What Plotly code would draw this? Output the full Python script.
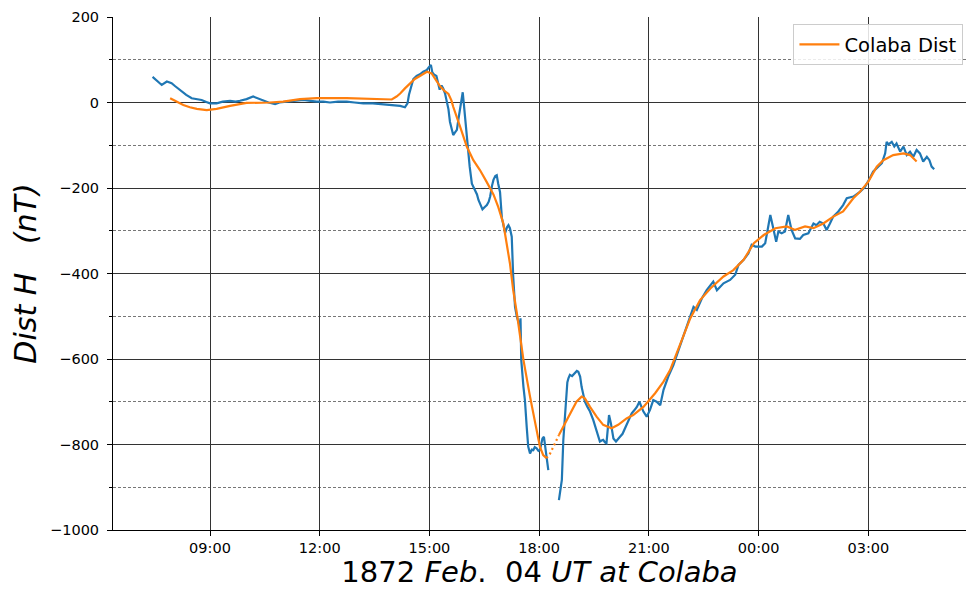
import pandas as pd
import plotly.graph_objects as go

# ------------------------------
# data (hours after 1872-02-04 00:00 UT, nT)
# ------------------------------
blue_h = [7.43, 7.55, 7.68, 7.82, 7.95, 8.05, 8.18, 8.35, 8.5, 8.65, 8.77, 8.9, 9.0, 9.18, 9.35, 9.55, 9.7, 9.82,
          10.0, 10.18, 10.3, 10.46, 10.6, 10.78, 10.9, 11.1, 11.3, 11.55, 11.75, 11.92, 12.1, 12.28, 12.5, 12.74,
          12.95, 13.19, 13.45, 13.74, 14.0, 14.2, 14.33, 14.4, 14.44, 14.5, 14.56, 14.65, 14.74, 14.83, 14.93,
          14.98, 15.04, 15.08, 15.12, 15.19, 15.24, 15.28, 15.33, 15.38, 15.43, 15.48, 15.52, 15.56, 15.61, 15.65,
          15.7, 15.75, 15.8, 15.84, 15.88, 15.91, 15.93, 15.97, 16.02, 16.06, 16.1, 16.16, 16.21, 16.25, 16.3,
          16.34, 16.4, 16.45, 16.52, 16.57, 16.62, 16.66, 16.71, 16.75, 16.8, 16.84, 16.88, 16.93, 16.98, 17.02,
          17.07, 17.12, 17.16, 17.2, 17.25, 17.29, 17.34, 17.39, 17.44, 17.47, 17.49, 17.51, 17.57, 17.61, 17.66,
          17.7, 17.75, 17.8, 17.84, 17.88, 17.93, 17.98, 18.02, 18.06, 18.09, 18.13, 18.16, 18.2, 18.25,
          18.4,
          18.54, 18.58, 18.62, 18.66, 18.7, 18.73, 18.77, 18.8, 18.84, 18.9, 18.98, 19.03, 19.07, 19.12, 19.16,
          19.2, 19.25, 19.32, 19.39, 19.48, 19.57, 19.62, 19.66, 19.72, 19.75, 19.8, 19.84, 19.88, 19.91, 19.96,
          20.03, 20.1, 20.16, 20.21, 20.28, 20.35, 20.44, 20.53, 20.6, 20.67, 20.74, 20.8, 20.85, 20.94, 21.03,
          21.12, 21.21, 21.31, 21.4, 21.53, 21.67, 21.81, 21.9, 22.0, 22.13, 22.22, 22.31, 22.45, 22.58, 22.68,
          22.76, 22.86, 22.95, 23.04, 23.22, 23.36, 23.45, 23.59, 23.72, 23.81, 23.91, 24.0, 24.09, 24.18, 24.24,
          24.32, 24.39, 24.48, 24.54, 24.63, 24.72, 24.81, 24.9, 25.0, 25.13, 25.22, 25.36, 25.5, 25.58, 25.67,
          25.77, 25.86, 25.95, 26.04, 26.18, 26.31, 26.41, 26.5, 26.59, 26.77, 26.91, 27.04, 27.13, 27.27, 27.37,
          27.46, 27.5, 27.55, 27.59, 27.64, 27.71, 27.77, 27.87, 27.96, 28.05, 28.14, 28.23, 28.32, 28.41, 28.5,
          28.6, 28.67, 28.73, 28.8]
blue_v = [60, 50, 41, 49, 45, 38, 29, 18, 10, 8, 6, 1, -2, -2, 2, 4, 2, 4,
          8, 14, 10, 6, 0, -4, 0, 2, 4, 6, 4, 2, 2, 0, 2, 2,
          0, -2, -2, -4, -6, -8, -11, -2, 18, 40, 55, 62, 66, 72, 76,
          82, 88, 70, 66, 62, 45, 30, 40, 32, 20, 0, -16, -45, -62, -76,
          -70, -64, -35, -10, 18, 24, 6, -33, -70, -115, -150, -190, -200, -205, -215,
          -228, -242, -250, -244, -240, -232, -220, -195, -181, -172, -170, -190, -210, -270, -290,
          -305, -292, -287, -294, -314, -407, -478, -501, -520, -524, -505, -602, -665, -696, -760,
          -805, -821, -812, -813, -806, -809, -815, -813, -800, -786, -782, -800, -830, -860,
          None,
          -930, -910, -883, -790, -730, -696, -655, -645, -637, -640, -634, -628, -630, -641, -665,
          -685, -700, -712, -723, -743, -770, -785, -793, -790, -789, -795, -797, -760, -731, -750,
          -786, -793, -788, -782, -775, -762, -743, -727, -720, -712, -700, -712, -723, -735, -719,
          -696, -700, -708, -672, -641, -614, -579, -556, -532, -501, -478, -485, -458, -439, -428,
          -419, -439, -430, -423, -415, -403, -380, -368, -353, -333, -337, -337, -337, -329, -298,
          -263, -290, -326, -302, -306, -302, -263, -298, -318, -319, -310, -306, -283, -287, -279,
          -283, -298, -283, -267, -255, -240, -224, -222, -220, -209, -197, -177, -162, -150, -142,
          -119, -92, -98, -96, -92, -103, -96, -115, -103, -123, -115, -127, -111, -119, -138,
          -127, -135, -150, -156]

orange_h = [7.91, 8.1, 8.27, 8.45, 8.64, 8.91, 9.18, 9.55, 10.0, 10.64, 11.0, 11.46, 11.92, 12.74, 13.37, 13.97,
            14.1, 14.2, 14.33, 14.47, 14.6, 14.74, 14.93, 15.06, 15.15, 15.29, 15.4, 15.52, 15.6, 15.65, 15.84,
            16.02, 16.2, 16.38, 16.56, 16.75, 16.88, 17.02, 17.2, 17.29, 17.39, 17.57, 17.75, 17.89, 18.02, 18.11,
            18.2]
orange_v = [10, 2, -6, -11, -15, -18, -15, -8, -1, 0, 2, 8, 10, 10, 8, 7,
            14, 21, 33, 45, 55, 62, 72, 68, 55, 38, 28, 20, 5, -10, -57,
            -103, -135, -158, -185, -215, -244, -283, -376, -439, -493, -602, -688, -750, -805, -825,
            -832]

# dotted bridge of the fitted curve over the data gap
gap_h = [18.2, 18.3, 18.39, 18.48, 18.54]
gap_v = [-832, -821, -805, -786, -778]

orange2_h = [18.54, 18.66, 18.84, 19.02, 19.16, 19.25, 19.39, 19.57, 19.75, 19.98, 20.16, 20.39, 20.57, 20.85,
             21.17, 21.4, 21.58, 21.76, 21.9, 22.13, 22.4, 22.68, 23.04, 23.31, 23.59, 23.87, 24.14, 24.46,
             24.77, 25.0, 25.27, 25.5, 25.77, 26.04, 26.31, 26.59, 26.77, 27.0, 27.23, 27.41, 27.68, 27.96,
             28.14, 28.32]
orange2_v = [-778, -758, -727, -700, -688, -692, -712, -735, -754, -762, -754, -739, -731, -712,
             -680, -653, -626, -587, -556, -505, -462, -435, -407, -392, -368, -329, -310, -294,
             -290, -298, -290, -294, -283, -267, -255, -224, -209, -185, -150, -135, -123, -119,
             -123, -138]

base = pd.Timestamp("1872-02-04 00:00")


def to_time(hours):
    return [base + pd.Timedelta(hours=h) for h in hours]


fig = go.Figure()
fig.add_trace(go.Scatter(x=to_time(blue_h), y=blue_v, mode="lines", connectgaps=False,
                         line=dict(color="#1f77b4", width=2.2), showlegend=False))
fig.add_trace(go.Scatter(x=to_time(orange_h), y=orange_v, mode="lines", name="Colaba Dist",
                         line=dict(color="#ff7f0e", width=2.2)))
fig.add_trace(go.Scatter(x=to_time(gap_h), y=gap_v, mode="lines", showlegend=False,
                         line=dict(color="#ff7f0e", width=2.2, dash="2px,3px")))
fig.add_trace(go.Scatter(x=to_time(orange2_h), y=orange2_v, mode="lines", showlegend=False,
                         line=dict(color="#ff7f0e", width=2.2)))

fig.update_layout(
    width=966, height=589,
    margin=dict(l=113, r=0, t=17, b=59, autoexpand=False),
    plot_bgcolor="white", paper_bgcolor="white",
    font=dict(family="DejaVu Sans", color="black", size=14.5),
    legend=dict(x=0.997, y=0.986, xanchor="right", yanchor="top",
                bgcolor="rgba(255,255,255,0.85)", bordercolor="#cccccc", borderwidth=1,
                font=dict(size=19.5), itemwidth=40),
)
fig.update_xaxes(
    range=[base + pd.Timedelta(hours=6.348), base + pd.Timedelta(hours=29.67)],
    tick0=base, dtick=3 * 3600 * 1000, tickformat="%H:%M",
    showgrid=True, gridcolor="#333333", gridwidth=1,
    showline=True, linecolor="black", linewidth=1,
    ticks="outside", ticklen=5, tickcolor="black",
    title=dict(text="1872 <i>Feb</i>.  04 <i>UT at Colaba</i>", font=dict(size=29), standoff=5),
)
fig.update_yaxes(
    range=[-1000, 200], tick0=0, dtick=200,
    showgrid=True, gridcolor="#333333", gridwidth=1, zeroline=False,
    showline=True, linecolor="black", linewidth=1,
    ticks="outside", ticklen=5, tickcolor="black", ticklabelstandoff=5,
    minor=dict(dtick=100, showgrid=True, gridcolor="#777777", gridwidth=0.8, griddash="3px,2px",
               ticks="outside", ticklen=3, tickcolor="black"),
    title=dict(text="<i>Dist H</i>   <i>(nT)</i>", font=dict(size=30), standoff=4),
)

fig.write_html("out.html", config={"displayModeBar": False},
               post_script="document.body.style.margin='0px';")
